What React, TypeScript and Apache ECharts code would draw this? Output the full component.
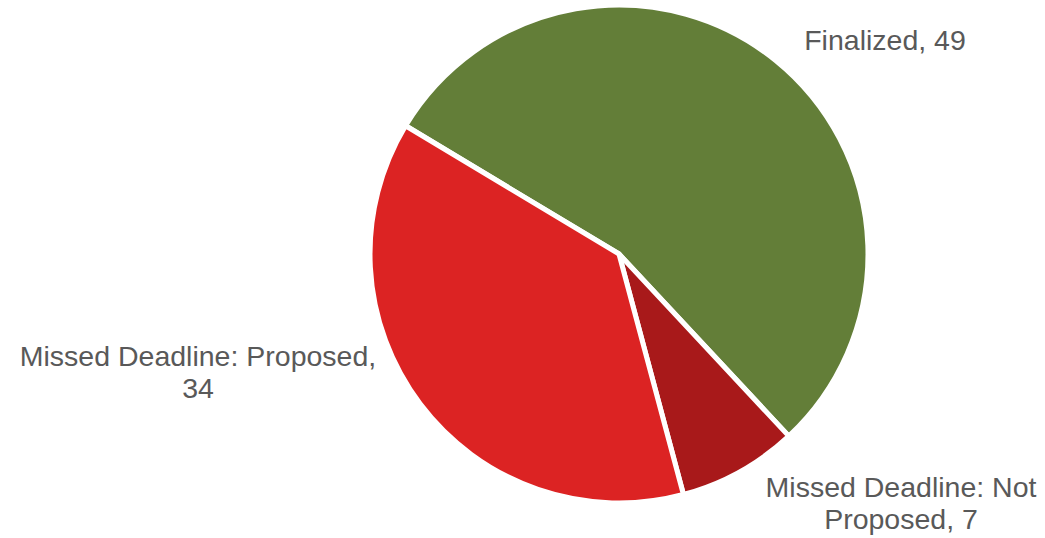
import React, { useEffect, useRef } from "react";
import * as echarts from "echarts";

const categories = ["Finalized", "Missed Deadline: Not Proposed", "Missed Deadline: Proposed"];
const values = [49, 7, 34];
const labelTexts = ["Finalized, 49", "Missed Deadline: Not\nProposed, 7", "Missed Deadline: Proposed,\n34"];
const colors = ["#637e38", "#a8191a", "#dc2323"];
const labelPos = [
  [885, 40],
  [901, 503],
  [198, 372],
];

export default function App() {
  const ref = useRef<HTMLDivElement>(null);
  useEffect(() => {
    if (!ref.current) return;
    const chart = echarts.init(ref.current, undefined, { renderer: "svg" });
    chart.setOption({
      animation: false,
      backgroundColor: "#ffffff",
      series: [
        {
          type: "pie",
          center: [619, 254],
          radius: [0, 249],
          startAngle: 149,
          clockwise: true,
          avoidLabelOverlap: false,
          itemStyle: { borderColor: "#ffffff", borderWidth: 5 },
          label: {
            show: true,
            position: "outside",
            color: "#595959",
            fontSize: 28.5,
            lineHeight: 32,
            fontFamily: "'Liberation Sans', Arial, Helvetica, sans-serif",
            align: "center",
            formatter: (p: any) => labelTexts[p.dataIndex],
          },
          labelLine: { show: false },
          labelLayout: (params: any) => ({
            x: labelPos[params.dataIndex][0],
            y: labelPos[params.dataIndex][1],
            align: "center",
            verticalAlign: "middle",
          }),
          emphasis: { disabled: true },
          data: categories.map((c, i) => ({
            name: c,
            value: values[i],
            itemStyle: { color: colors[i] },
          })),
        },
      ],
    });
    return () => chart.dispose();
  }, []);
  return (
    <div
      ref={ref}
      style={{ position: "fixed", left: 0, top: 0, width: 1045, height: 538 }}
    />
  );
}
